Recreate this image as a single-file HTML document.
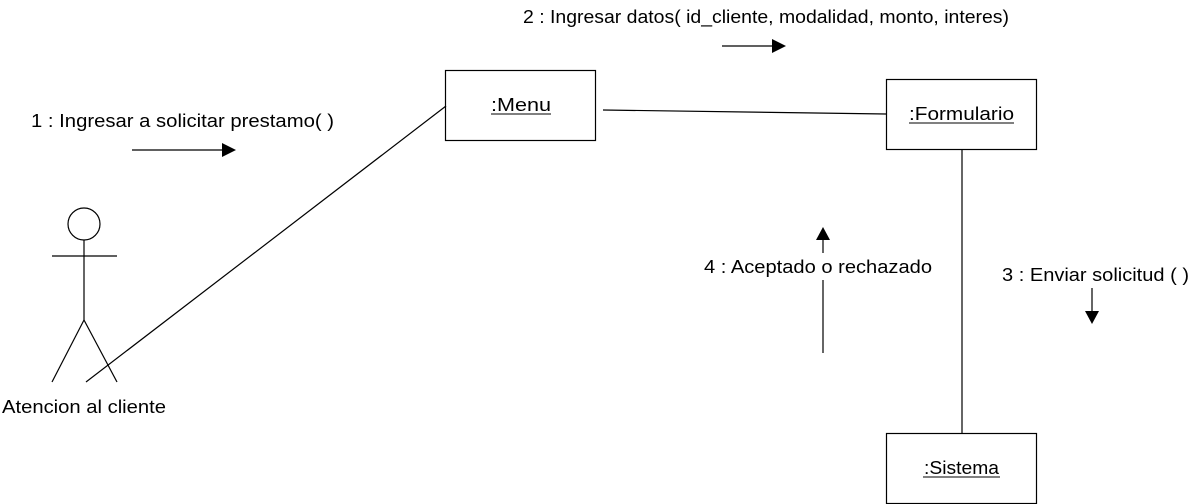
<!DOCTYPE html>
<html><head><meta charset="utf-8"><style>
html,body{margin:0;padding:0;background:#fff;}
svg{display:block;}
text{font-family:"Liberation Sans",sans-serif;font-size:18px;fill:#000;}
</style></head><body>
<svg width="1190" height="504" viewBox="0 0 1190 504" xmlns="http://www.w3.org/2000/svg">
<g stroke="#000" stroke-width="1.2" fill="none">
<rect x="445.5" y="70.5" width="150" height="70"/>
<rect x="886.5" y="79.5" width="150" height="70"/>
<rect x="886.5" y="433.5" width="150" height="70"/>
<line x1="603" y1="110" x2="886" y2="114"/>
<line x1="962" y1="150" x2="962" y2="433"/>
<line x1="86" y1="382" x2="446" y2="106"/>
<circle cx="84" cy="224" r="16"/>
<line x1="84" y1="240" x2="84" y2="320"/>
<line x1="52" y1="256" x2="117" y2="256"/>
<line x1="84" y1="320" x2="52" y2="382"/>
<line x1="84" y1="320" x2="117" y2="382"/>
<line x1="132" y1="150" x2="224" y2="150"/>
<line x1="722" y1="46" x2="774" y2="46"/>
<line x1="823" y1="353" x2="823" y2="280"/>
<line x1="823" y1="253" x2="823" y2="238"/>
<line x1="1092" y1="288" x2="1092" y2="313"/>
</g>
<g fill="#000">
<polygon points="222,143 236,150 222,157"/>
<polygon points="772,39 786,46 772,53"/>
<polygon points="816,240 823,227 830,240"/>
<polygon points="1085,311 1092,324 1099,311"/>
</g>
<text x="31" y="127" textLength="303" lengthAdjust="spacingAndGlyphs">1 : Ingresar a solicitar prestamo( )</text>
<text x="523" y="23" textLength="486" lengthAdjust="spacingAndGlyphs">2 : Ingresar datos( id_cliente, modalidad, monto, interes)</text>
<text x="1002" y="281" textLength="187" lengthAdjust="spacingAndGlyphs">3 : Enviar solicitud ( )</text>
<text x="704" y="273" textLength="228" lengthAdjust="spacingAndGlyphs">4 : Aceptado o rechazado</text>
<text x="2" y="413" textLength="164" lengthAdjust="spacingAndGlyphs">Atencion al cliente</text>
<text x="491" y="111" textLength="60" lengthAdjust="spacingAndGlyphs">:Menu</text>
<text x="909" y="120" textLength="105" lengthAdjust="spacingAndGlyphs">:Formulario</text>
<text x="924" y="474" textLength="75" lengthAdjust="spacingAndGlyphs">:Sistema</text>
<g stroke="#000" stroke-width="1">
<line x1="491" y1="114" x2="551" y2="114"/>
<line x1="909" y1="123" x2="1014" y2="123"/>
<line x1="923" y1="477" x2="1000" y2="477"/>
</g>
</svg>
</body></html>
